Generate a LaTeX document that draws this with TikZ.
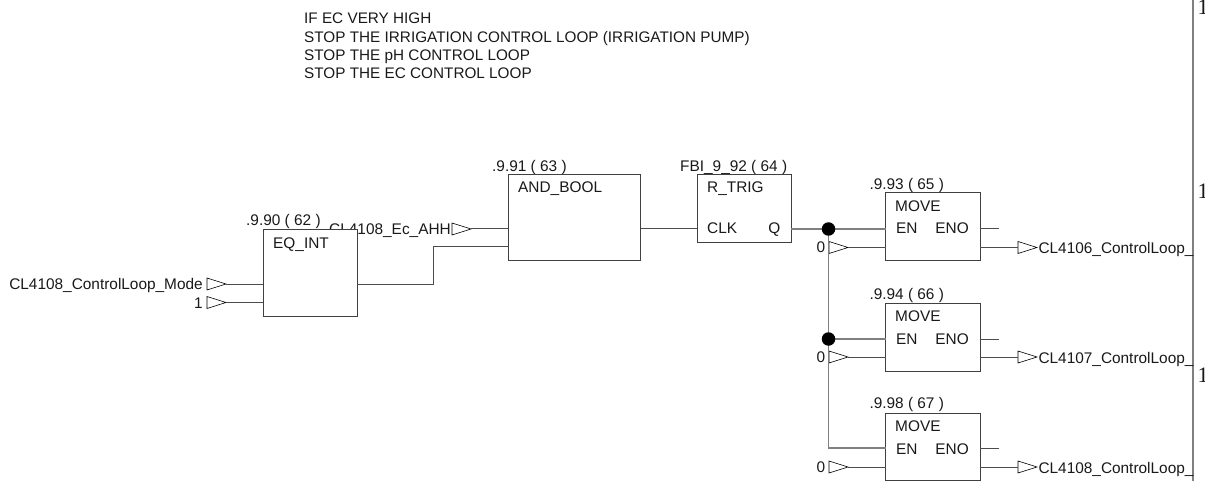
\documentclass[tikz,border=0pt]{standalone}
\usepackage{fontspec}
\setmainfont{Liberation Sans}
\newfontfamily\numfont{Liberation Serif}
\definecolor{ink}{gray}{0.25}
\definecolor{wire}{gray}{0.3}
\tikzset{
  x=1pt,y=-1pt,
  blockbox/.style={draw=ink,fill=white,line width=1pt,rectangle,inner sep=0,outer sep=0},
  wireline/.style={draw=wire,line width=1pt},
  railline/.style={draw=black!50,line width=1.3pt},
  pinmark/.style={draw=black,fill=white,line width=.6pt,line join=miter},
  dotmark/.style={circle,fill=black,inner sep=0,minimum size=13.5pt},
  lbl/.style={font=\fontsize{15.4pt}{17pt}\selectfont,inner sep=0,text=black!90,anchor=base west},
  lblr/.style={font=\fontsize{15.4pt}{17pt}\selectfont,inner sep=0,text=black!90,anchor=base east},
  headtext/.style={font=\fontsize{15.3pt}{17pt}\selectfont,inner sep=0,text=black!90,anchor=base west},
  edgeone/.style={font=\numfont\fontsize{22pt}{22pt}\selectfont,inner sep=0,text=black!90,anchor=base west},
}
% triangle pin: base at x, tip named #1
\newcommand{\pinmk}[3]{%
  \coordinate (#1) at (#2+19,#3);
  \draw[pinmark] (#2,#3-6) -- (#2+19,#3) -- (#2,#3+6) -- cycle;}
\newcommand{\blk}[5]{% name, x0,y0,x1,y1
  \node[blockbox,minimum width=#4pt-#2pt,minimum height=#5pt-#3pt,anchor=north west] (#1) at (#2,#3) {};}
\begin{document}
\begin{tikzpicture}
\clip (0,0) rectangle (1205,481);
\useasboundingbox (0,0) rectangle (1205,481);
% header
\node[headtext] (t1) at (304,24) {IF EC VERY HIGH};
\node[headtext] (t2) at (304,42.7) {STOP THE IRRIGATION CONTROL LOOP (IRRIGATION PUMP)};
\node[headtext] (t3) at (304,61) {STOP THE pH CONTROL LOOP};
\node[headtext] (t4) at (304,79) {STOP THE EC CONTROL LOOP};
% right rail
\coordinate (railtop) at (1193,0);
\coordinate (railbot) at (1193,481);
\draw[draw=gray,line width=1.4pt] (railtop) -- (railbot);
\node[edgeone] (r1) at (1197.5,14.5) {1};
\node[edgeone] (r2) at (1197.5,199) {1};
\node[edgeone] (r3) at (1197.5,382) {1};
% labels hidden in part by the blocks
\node[lblr] (ahh) at (451,234.5) {CL4108\_Ec\_AHH};
\node[lbl] (c90) at (246,225.5) {.9.90 ( 62 )};
\node[lbl] (c91) at (492,171.7) {.9.91 ( 63 )};
\node[lbl] (c92) at (680,171.7) {FBI\_9\_92 ( 64 )};
\node[lbl] (c93) at (869.3,189.5) {.9.93 ( 65 )};
\node[lbl] (c94) at (869.3,299.5) {.9.94 ( 66 )};
\node[lbl] (c98) at (869.3,408.5) {.9.98 ( 67 )};
% blocks
\blk{eq}{263}{229.5}{357}{316}
\blk{and}{508.5}{175}{640.5}{261}
\blk{trig}{697}{175}{791}{243}
\blk{mva}{885.5}{193}{980}{261}
\blk{mvb}{885.5}{303}{980}{371}
\blk{mvc}{885.5}{413}{980}{480}
% block text
\node[lbl] (eqt) at (273,248) {EQ\_INT};
\node[lbl] (andt) at (518,193) {AND\_BOOL};
\node[lbl] (trigt) at (707,193) {R\_TRIG};
\node[lbl] (clk) at (707,234) {CLK};
\node[lblr] (q) at (780.5,234) {Q};
\foreach \n/\y in {a/193,b/303,c/413}{
  \node[lbl] (mvt\n) at (895,\y+18.3) {MOVE};
  \node[lbl] (en\n) at (896,\y+41) {EN};
  \node[lblr] (eno\n) at (969,\y+41) {ENO};
}
% input pins
\node[lblr] (lmode) at (203,290) {CL4108\_ControlLoop\_Mode};
\node[lblr] (lone) at (203,308.5) {1};
\pinmk{pmode}{207}{284}
\pinmk{pone}{207}{302.5}
\pinmk{pahh}{452}{229}
\draw[wireline] (pmode) -- (pmode -| eq.west);
\draw[wireline] (pone) -- (pone -| eq.west);
\draw[wireline] (pahh) -- (pahh -| and.west);
\coordinate (eqo) at (357,284);
\coordinate (ando) at (508.5,247);
\draw[wireline] (eqo) -| (433,247) -- (ando);
\coordinate (ando2) at (640.5,229);
\draw[wireline] (ando2) -- (ando2 -| trig.west);
% zero pins and output pins
\foreach \n/\y/\t/\b/\u in {a/247.5/CL4106/829/229,b/357/CL4107/829/339,c/467/CL4108/829/448}{
  \node[lblr] (z\n) at (825.5,\y+5.5) {0};
  \pinmk{zp\n}{\b}{\y}
  \draw[wireline] (zp\n) -- (zp\n -| mv\n.west);
  \pinmk{op\n}{1018}{\y}
  \coordinate (ob\n) at (1018,\y);
  \coordinate (os\n) at (999,\u);
  \draw[wireline] (mv\n.east |- ob\n) -- (ob\n);
  \draw[wireline] (mv\n.east |- os\n) -- (os\n);
  \node[lbl] (ol\n) at (1038.3,\y+6) {\t\_ControlLoop\_};
}
% EN rail
\coordinate (qo) at (791,229);
\coordinate (enc) at (885.5,448);
\draw[railline] (qo) -- (qo -| mva.west);
\coordinate (ja) at (828.5,229);
\coordinate (jb) at (828.5,339);
\draw[railline] (ja) |- (enc);
\draw[railline] (jb) -- (jb -| mvb.west);
\node[dotmark] (da) at (ja) {};
\node[dotmark] (db) at (jb) {};
\end{tikzpicture}
\end{document}
